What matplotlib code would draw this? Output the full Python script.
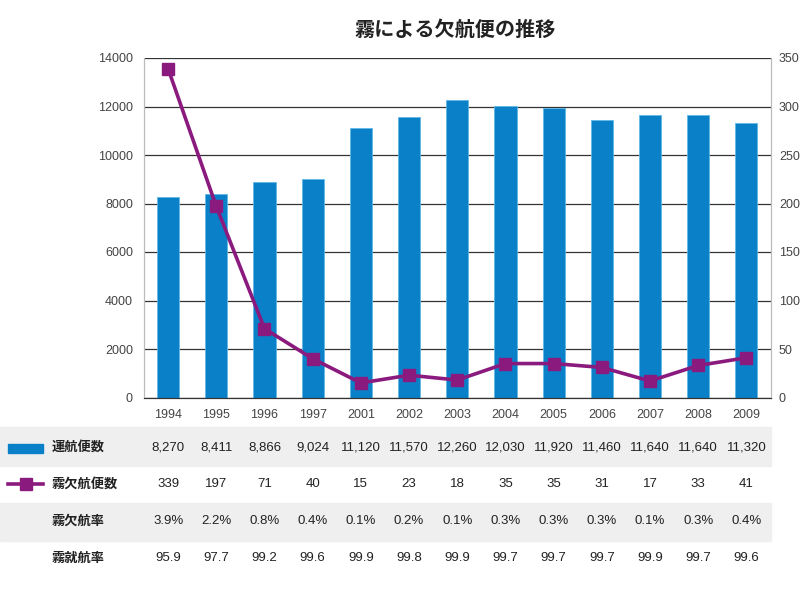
import matplotlib
matplotlib.use("Agg")
import matplotlib.pyplot as plt
from matplotlib.patches import Rectangle
from matplotlib.lines import Line2D
import matplotlib.transforms as mtransforms

plt.rcParams['font.family'] = ['Liberation Sans', 'Noto Sans CJK JP', 'DejaVu Sans']

# data
years = ['1994', '1995', '1996', '1997', '2001', '2002', '2003', '2004',
         '2005', '2006', '2007', '2008', '2009']
flights = [8270, 8411, 8866, 9024, 11120, 11570, 12260, 12030, 11920,
           11460, 11640, 11640, 11320]
cancelled = [339, 197, 71, 40, 15, 23, 18, 35, 35, 31, 17, 33, 41]
cancel_rate = ['3.9%', '2.2%', '0.8%', '0.4%', '0.1%', '0.2%', '0.1%', '0.3%',
               '0.3%', '0.3%', '0.1%', '0.3%', '0.4%']
operate_rate = ['95.9', '97.7', '99.2', '99.6', '99.9', '99.8', '99.9', '99.7',
                '99.7', '99.7', '99.9', '99.7', '99.6']
row_labels = ['運航便数', '霧欠航便数', '霧欠航率', '霧就航率']

BLUE = '#0A80C9'
PURPLE = '#8B1A7E'
W, H = 801, 589

def fx(px):
    return px / W

def fy(py):
    return 1 - py / H

fig = plt.figure(figsize=(8.01, 5.89), dpi=100)
ax = fig.add_axes([fx(144), fy(397.5), fx(770.5) - fx(144), fy(58) - fy(397.5)])
ax2 = ax.twinx()

x = list(range(len(years)))
ax.bar(x, flights, width=0.46, color=BLUE, edgecolor='#62B8E6', linewidth=0.6, zorder=2)
ax.set_xlim(-0.5, len(years) - 0.5)
ax.set_ylim(0, 14000)
ax.set_yticks(range(0, 14001, 2000))
ax.set_xticks(x)
ax.set_xticklabels(years)
ax.yaxis.grid(True, color='#333333', linewidth=0.9)
ax.set_axisbelow(True)
ax.tick_params(axis='both', length=0, labelsize=9, colors='#444444')
ax.tick_params(axis='x', pad=8)
ax.tick_params(axis='y', pad=8)

ax2.plot(x, cancelled, color=PURPLE, linewidth=2.6, marker='s', markersize=9, zorder=3)
ax2.set_ylim(0, 350)
ax2.set_yticks(range(0, 351, 50))
ax2.tick_params(axis='y', length=0, labelsize=9, colors='#444444', pad=6)

for a in (ax, ax2):
    a.spines['top'].set_visible(False)
    a.spines['left'].set_color('#BBBBBB')
    a.spines['right'].set_color('#BBBBBB')
    a.spines['bottom'].set_color('#333333')

# title
fig.text(fx(455), fy(29.5), '霧による欠航便の推移', ha='center', va='center',
         fontsize=14.5, fontweight='bold', family=['Noto Sans CJK JP'], color='#222222')

# table below
row_y = [447, 484, 521, 558]
bands = [(427, 466), (503, 541)]
for top, bot in bands:
    fig.patches.append(Rectangle((0, fy(bot)), fx(770.5), fy(top) - fy(bot),
                                 transform=fig.transFigure, color='#EFEFEF', zorder=0))

trans = mtransforms.blended_transform_factory(ax.transData, fig.transFigure)
rows = [['{:,}'.format(v) for v in flights], [str(v) for v in cancelled],
        cancel_rate, operate_rate]
for ry, vals in zip(row_y, rows):
    for xi, v in zip(x, vals):
        fig.text(xi, fy(ry), v, transform=trans, ha='center', va='center',
                 fontsize=9.5, color='#222222')

for ry, lab in zip(row_y, row_labels):
    fig.text(fx(52), fy(ry), lab, ha='left', va='center', fontsize=9.5,
             fontweight='bold', family=['Noto Sans CJK JP'], color='#222222')

# legend keys in table
fig.patches.append(Rectangle((fx(8), fy(453)), fx(43) - fx(8), fy(444) - fy(453),
                             transform=fig.transFigure, color=BLUE))
fig.lines.append(Line2D([fx(8), fx(43)], [fy(484), fy(484)], transform=fig.transFigure,
                        color=PURPLE, linewidth=2.6))
fig.lines.append(Line2D([fx(25.5)], [fy(484)], transform=fig.transFigure,
                        color=PURPLE, marker='s', markersize=9, linestyle='none'))

fig.savefig('out.png', dpi=100)
